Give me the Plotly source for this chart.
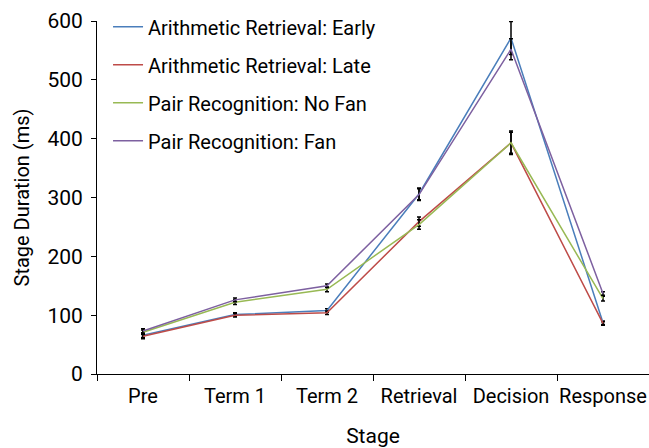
import plotly.graph_objects as go

stages = ["Pre", "Term 1", "Term 2", "Retrieval", "Decision", "Response"]
series_names = ["Arithmetic Retrieval: Early", "Arithmetic Retrieval: Late",
                "Pair Recognition: No Fan", "Pair Recognition: Fan"]
early = [66, 101, 108, 306, 571, 87]
late = [64, 100, 104, 259, 393, 86]
nofan = [71, 122, 144, 254, 393, 128]
fan = [73, 126, 150, 305, 552, 137]
early_err = [4, 3, 3, 10, 28, 3]
late_err = [4, 3, 3, 8, 20, 3]
nofan_err = [4, 4, 4, 8, 18, 4]
fan_err = [4, 3, 3, 10, 18, 3]
colors = ["#4a7ebb", "#be4b48", "#98b954", "#7d60a0"]

values = [early, late, nofan, fan]
errs = [early_err, late_err, nofan_err, fan_err]

FONT = "Roboto, Liberation Sans, sans-serif"

fig = go.Figure()
for i, (name, v, e, c) in enumerate(zip(series_names, values, errs, colors)):
    fig.add_trace(go.Scatter(
        x=stages, y=v, name=name, mode="lines",
        line=dict(color=c, width=1.5),
        legendgroup=f"g{i}",
        error_y=dict(type="data", array=e, visible=True, color="black",
                     thickness=1.5, width=2),
    ))

fig.update_layout(
    width=649, height=448,
    margin=dict(l=97, r=0, t=21, b=74),
    paper_bgcolor="white", plot_bgcolor="white",
    font=dict(family=FONT, size=20, color="black"),
    showlegend=True,
    legend=dict(x=0.02, y=1.039, xanchor="left", yanchor="top",
                bgcolor="rgba(0,0,0,0)", tracegroupgap=9,
                font=dict(size=20, family=FONT)),
    xaxis=dict(
        title=dict(text="Stage", font=dict(size=21), standoff=22),
        type="category", range=[-0.5, 5.5], automargin=False,
        showline=True, linecolor="black", linewidth=1,
        ticks="outside", tickson="boundaries", ticklen=6, tickcolor="black",
        showgrid=False, zeroline=False, tickangle=0, ticklabelstandoff=4,
        tickfont=dict(size=20),
    ),
    yaxis=dict(
        title=dict(text="Stage Duration (ms)", font=dict(size=20), standoff=12),
        range=[0, 600], dtick=100, automargin=False,
        showline=True, linecolor="black", linewidth=1,
        ticks="outside", ticklen=5, tickcolor="black",
        showgrid=False, zeroline=False, ticklabelstandoff=4,
        tickfont=dict(size=21),
    ),
)

fig.write_html("out.html", config={"displayModeBar": False},
               post_script="document.body.style.margin='0';document.body.style.overflow='hidden';")
